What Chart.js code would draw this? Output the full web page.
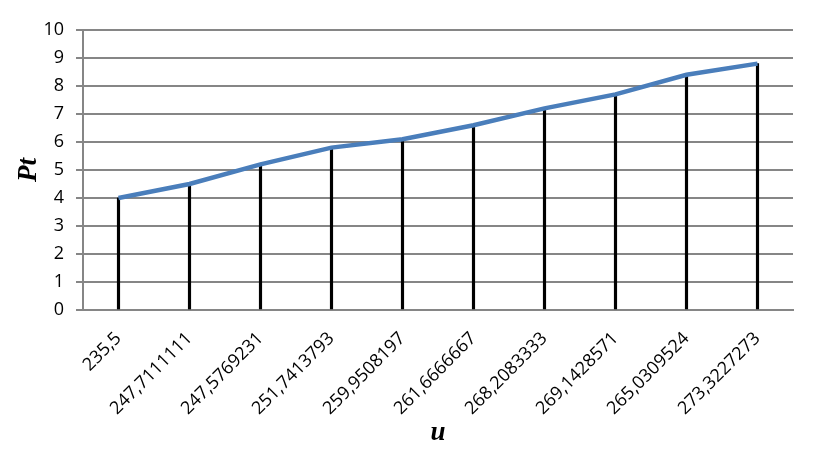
<!DOCTYPE html>
<html>
<head>
<meta charset="utf-8">
<script src="https://cdn.jsdelivr.net/npm/chart.js@4/dist/chart.umd.min.js"></script>
<style>
  html, body { margin: 0; padding: 0; background: #fff; }
  #wrap { width: 820px; height: 455px; position: relative; }
</style>
</head>
<body>
<div id="wrap"><canvas id="chart"></canvas></div>
<script>
// values
const categories = ['235,5', '247,7111111', '247,5769231', '251,7413793', '259,9508197',
    '261,6666667', '268,2083333', '269,1428571', '265,0309524', '273,3227273'];
const ptValues = [4.0, 4.5, 5.2, 5.8, 6.1, 6.6, 7.2, 7.7, 8.4, 8.8];
const yTicks = [0, 1, 2, 3, 4, 5, 6, 7, 8, 9, 10];

const GRID = '#868686';
const tickFont = { family: '"Open Sans", "Liberation Sans", sans-serif', size: 18 };
const titleFont = { family: '"Liberation Serif", "Times New Roman", serif', size: 27, weight: 'bold', style: 'italic' };

new Chart(document.getElementById('chart'), {
    type: 'line',
    data: {
        labels: categories,
        datasets: [
            {
                // the blue series line
                type: 'line',
                data: ptValues,
                borderColor: '#4a7ebb',
                borderWidth: 4.5,
                pointRadius: 0,
                tension: 0,
                order: 0,
            },
            {
                // drop lines from each point down to the axis
                type: 'bar',
                data: ptValues,
                backgroundColor: '#000',
                barThickness: 2.5,
                order: 1,
            },
        ],
    },
    options: {
        responsive: true,
        maintainAspectRatio: false,
        animation: false,
        layout: { padding: { top: 30, right: 27, left: 0, bottom: 0 } },
        plugins: {
            legend: { display: false },
            tooltip: { enabled: false },
        },
        scales: {
            x: {
                offset: true,
                grid: { display: false, drawTicks: true, tickLength: 8 },
                border: { display: true, color: GRID, width: 2 },
                ticks: {
                    color: '#000', font: tickFont, minRotation: 45, maxRotation: 45,
                    padding: 10, autoSkip: false,
                },
                title: { display: true, text: 'u', color: '#000', font: titleFont, padding: { top: 0, bottom: 6 } },
                afterFit: (scale) => { scale.height = 145; },
            },
            y: {
                min: 0,
                max: 10,
                afterBuildTicks: (scale) => { scale.ticks = yTicks.map((v) => ({ value: v })); },
                grid: { color: GRID, lineWidth: 2, tickLength: 7, drawTicks: true },
                border: { display: true, color: GRID, width: 2 },
                ticks: { color: '#000', font: tickFont, padding: 12 },
                title: { display: true, text: 'Pt', color: '#000', font: titleFont, padding: { top: 13, bottom: 0 } },
                afterFit: (scale) => { scale.width = 83; },
            },
        },
    },
});
</script>
</body>
</html>
